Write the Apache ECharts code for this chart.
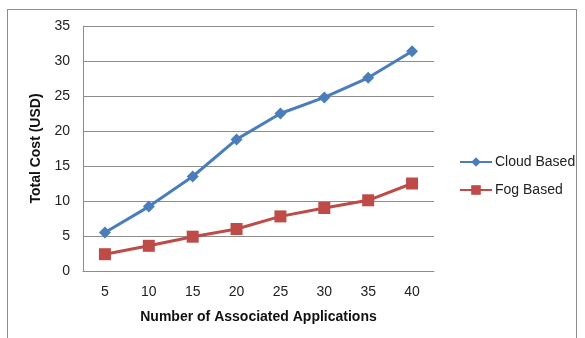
<!DOCTYPE html>
<html>
<head>
<meta charset="utf-8">
<script src="https://cdn.jsdelivr.net/npm/echarts@6/dist/echarts.min.js"></script>
<style>
  html, body { margin: 0; padding: 0; background: #fff; }
  #frame { position: absolute; left: 7px; top: 9px; width: 570px; height: 340px; border: 1px solid #8c8c8c; box-sizing: border-box; }
  #chart { position: absolute; left: 0; top: 0; width: 585px; height: 338px; }
</style>
</head>
<body>
<div id="frame"></div>
<div id="chart"></div>
<script>
// Number of associated applications
const categories = ['5', '10', '15', '20', '25', '30', '35', '40'];
// Total cost in USD
const cloudBased = [5.5, 9.2, 13.5, 18.8, 22.5, 24.8, 27.6, 31.4];
const fogBased = [2.4, 3.6, 4.9, 6.0, 7.8, 9.0, 10.1, 12.5];
const yTicks = { min: 0, max: 35, interval: 5 };

const font = 'Liberation Sans, Arial, sans-serif';
const chart = echarts.init(document.getElementById('chart'), null, { renderer: 'canvas' });
chart.setOption({
  animation: false,
  textStyle: { fontFamily: font },
  grid: { left: 83, top: 26, width: 351, height: 245, containLabel: false },
  legend: {
    orient: 'vertical',
    left: 459,
    top: 155,
    padding: 0,
    itemGap: 14,
    itemWidth: 32,
    itemHeight: 12,
    textStyle: { fontFamily: font, fontSize: 14, color: '#222', padding: [0, 0, 0, -2] },
    data: ['Cloud Based', 'Fog Based']
  },
  xAxis: {
    type: 'category',
    data: categories,
    boundaryGap: true,
    name: 'Number of Associated Applications',
    nameLocation: 'middle',
    nameGap: 39,
    nameTextStyle: { fontFamily: font, fontSize: 14, fontWeight: 'bold', color: '#111' },
    axisLine: { lineStyle: { color: '#8c8c8c', width: 1 } },
    axisTick: { show: false },
    axisLabel: { fontSize: 14, color: '#222', margin: 14 },
    splitLine: { show: false }
  },
  yAxis: {
    type: 'value',
    min: yTicks.min,
    max: yTicks.max,
    interval: yTicks.interval,
    name: 'Total Cost (USD)',
    nameLocation: 'middle',
    nameGap: 35,
    nameRotate: 90,
    nameTextStyle: { fontFamily: font, fontSize: 14, fontWeight: 'bold', color: '#111' },
    axisLine: { show: true, lineStyle: { color: '#8c8c8c', width: 1 } },
    axisTick: { show: false },
    axisLabel: { fontSize: 14, color: '#222', margin: 13 },
    splitLine: { lineStyle: { color: '#8c8c8c', width: 1 } }
  },
  series: [
    {
      name: 'Cloud Based',
      type: 'line',
      data: cloudBased,
      symbol: 'diamond',
      symbolSize: 12,
      lineStyle: { color: '#4a7ebb', width: 3 },
      itemStyle: { color: '#4a7ebb' }
    },
    {
      name: 'Fog Based',
      type: 'line',
      data: fogBased,
      symbol: 'rect',
      symbolSize: 12,
      lineStyle: { color: '#be4b48', width: 3 },
      itemStyle: { color: '#be4b48' }
    }
  ]
});
</script>
</body>
</html>
